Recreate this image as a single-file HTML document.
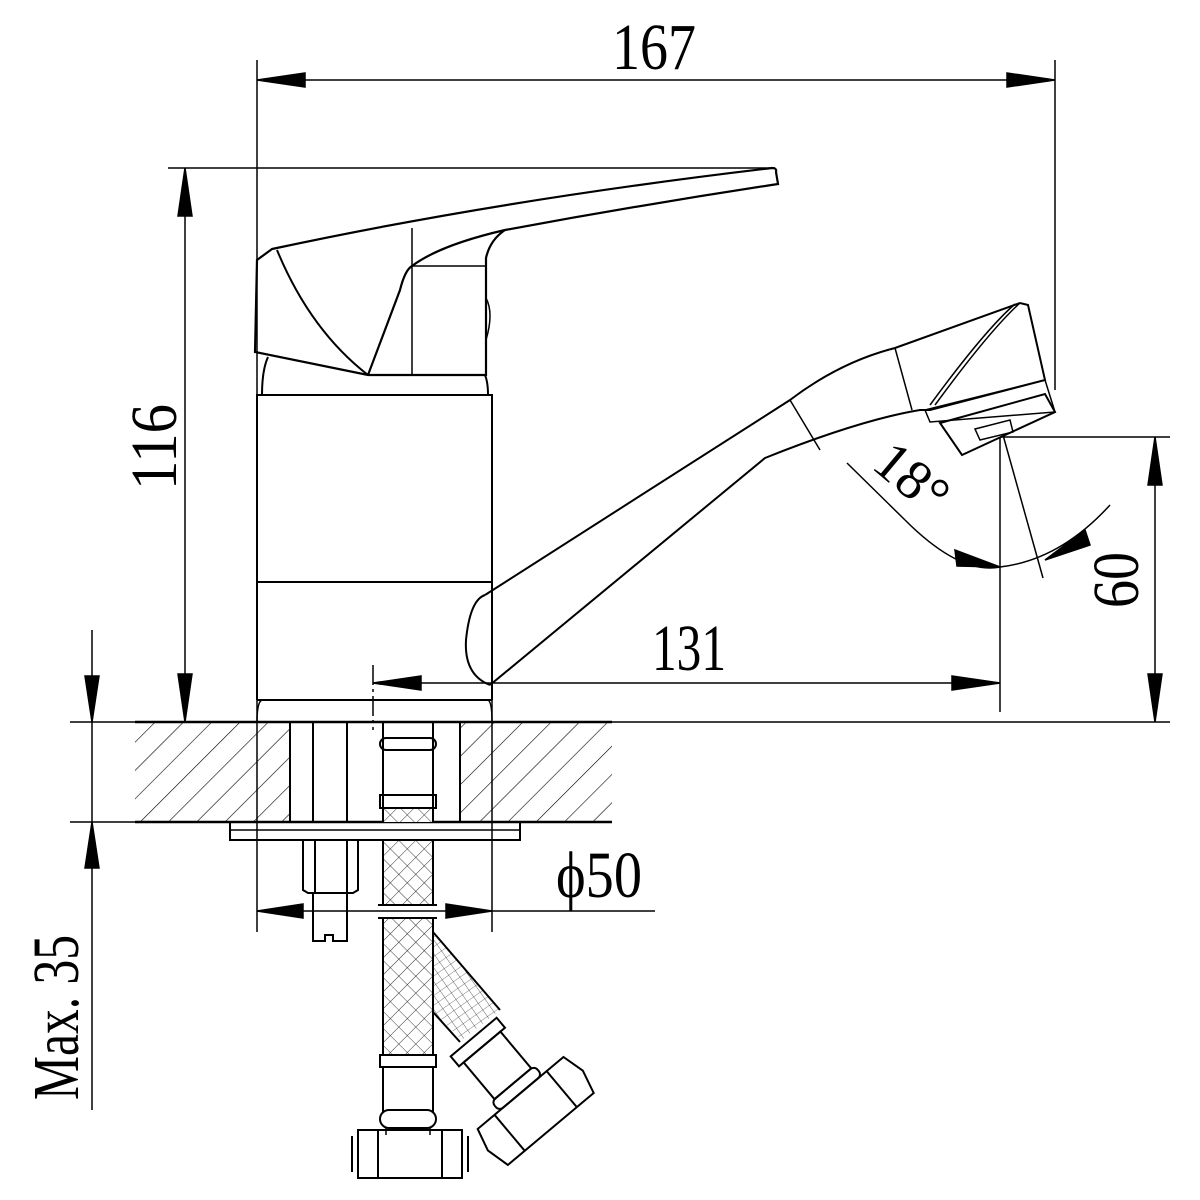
<!DOCTYPE html>
<html><head><meta charset="utf-8"><style>html,body{margin:0;padding:0;background:#fff}svg{display:block}</style></head><body>
<svg width="1200" height="1200" viewBox="0 0 1200 1200" xmlns="http://www.w3.org/2000/svg" font-family="Liberation Serif, serif">
<defs>
<pattern id="h" patternUnits="userSpaceOnUse" width="20" height="20" patternTransform="rotate(45)">
<line x1="0" y1="0" x2="0" y2="20" stroke="#000" stroke-width="1.2"/></pattern>
<pattern id="x" patternUnits="userSpaceOnUse" width="12" height="12" patternTransform="rotate(45)">
<path d="M0 0H12M0 0V12" stroke="#000" stroke-width="0.8" fill="none"/></pattern>
<pattern id="g" patternUnits="userSpaceOnUse" width="8" height="8" patternTransform="rotate(-35)">
<path d="M0 0H8M0 0V8" stroke="#000" stroke-width="0.6" fill="none"/></pattern>
</defs>
<g stroke="#000" fill="none" stroke-width="1.5">
<line x1="257" y1="60" x2="257" y2="722"/>
<line x1="1055" y1="60" x2="1055" y2="390"/>
<line x1="257" y1="80" x2="1055" y2="80"/>
<polygon points="257,80 305,73 305,87" fill="#000"/>
<polygon points="1055,80 1007,73 1007,87" fill="#000"/>
<line x1="168" y1="168" x2="775" y2="168"/>
<line x1="185" y1="168" x2="185" y2="722"/>
<polygon points="185,168 178,216 192,216" fill="#000"/>
<polygon points="185,722 178,674 192,674" fill="#000"/>
<line x1="1000" y1="437" x2="1170" y2="437"/>
<line x1="1155" y1="437" x2="1155" y2="722"/>
<polygon points="1155,437 1148,485 1162,485" fill="#000"/>
<polygon points="1155,722 1148,674 1162,674" fill="#000"/>
<line x1="70" y1="722" x2="1170" y2="722"/>
<line x1="70" y1="822" x2="612" y2="822"/>
<rect x="135" y="722" width="155" height="100" fill="url(#h)" stroke="none"/>
<rect x="460" y="722" width="152" height="100" fill="url(#h)" stroke="none"/>
<line x1="135" y1="722" x2="612" y2="722" stroke-width="2.5"/>
<line x1="135" y1="822" x2="612" y2="822" stroke-width="2.5"/>
<line x1="290" y1="722" x2="290" y2="822" stroke-width="2"/>
<line x1="313" y1="722" x2="313" y2="822" stroke-width="2"/>
<line x1="347" y1="722" x2="347" y2="822" stroke-width="2"/>
<line x1="460" y1="722" x2="460" y2="822" stroke-width="2"/>
<line x1="492" y1="700" x2="492" y2="932"/>
<line x1="257" y1="722" x2="257" y2="932"/>
<line x1="92" y1="630" x2="92" y2="1110"/>
<polygon points="92,722 85,676 99,676" fill="#000"/>
<polygon points="92,822 85,868 99,868" fill="#000"/>
<path d="M257 700 V395 H492 V700 M257 582 H492 M257 700 H492" stroke-width="2"/>
<path d="M257 722 Q257 702 262 700 M492 722 Q492 702 488 700"/>
<path d="M262 395 Q262 370 268 357 M488 395 Q488 382 485 375" stroke-width="2"/>
<path d="M255 352 L257 260 L272 249 Q500 200 772 168 Q777 168 776 172 L778 184 Q640 205 505 230 Q490 240 486 258 V375 H368 Z" stroke-width="2.2"/>
<path d="M277 250 Q310 330 368 375" stroke-width="2"/>
<path d="M368 375 L400 290 Q405 270 412 266 Q440 245 505 230" stroke-width="2.2"/>
<path d="M412 228 V375 M412 266 H486"/>
<path d="M486 298 Q494 313 486 340"/>
<path d="M485 595 L790 400 Q840 362 895 348 L1020 303 L1028 305 L1045 380 L930 410 L920 410 Q860 420 765 458 L490 685" stroke-width="2"/>
<path d="M485 595 Q470 600 466 640 Q464 675 490 685" stroke-width="2"/>
<path d="M790 400 L820 450 M895 348 L912 410"/>
<path d="M1020 303 Q990 330 935 405 M1015 304 Q985 330 930 405"/>
<path d="M925 410 L1045 380 L1055 412 L930 422 Z"/>
<path d="M940 423 L1045 394 L1055 412 L962 455 Z" stroke-width="2"/>
<path d="M975 429 L1010 420 L1013 432 L980 440 Z"/>
<line x1="373" y1="665" x2="373" y2="730" stroke-dasharray="20 4 3 4"/>
<line x1="373" y1="683" x2="1000" y2="683"/>
<line x1="1000" y1="437" x2="1000" y2="712"/>
<polygon points="373,683 421,676 421,690" fill="#000"/>
<polygon points="1000,683 952,676 952,690" fill="#000"/>
<line x1="1003" y1="435" x2="1043" y2="578"/>
<line x1="847" y1="463" x2="905" y2="520"/>
<path d="M905 520 Q960 575 1000 567 Q1060 560 1110 505"/>
<polygon points="1000,567 955,550 957,566" fill="#000"/>
<polygon points="1045,560 1085,530 1090,545" fill="#000"/>
<rect x="230" y="822" width="290" height="18" stroke-width="2"/>
<line x1="230" y1="830" x2="520" y2="830"/>
<path d="M303 840 V890 L308 893 H353 L358 890 V840 M315 840 V893 M347 840 V893" stroke-width="2"/>
<path d="M313 893 V941 H325 V935 H333 V941 H347 V893" stroke-width="2"/>
<line x1="257" y1="911" x2="655" y2="911"/>
<polygon points="257,911 303,904 303,918" fill="#000"/>
<polygon points="492,911 446,904 446,918" fill="#000"/>
<rect x="383" y="730" width="50" height="92" fill="#fff" stroke="none"/>
<path d="M383 722 V822 M433 722 V822" stroke-width="2"/>
<rect x="380" y="738" width="56" height="12" rx="6" stroke-width="2"/>
<rect x="380" y="795" width="56" height="13" stroke-width="2"/>
<rect x="383" y="808" width="50" height="14" fill="url(#x)" stroke="none"/>
<rect x="383" y="840" width="50" height="65" fill="url(#x)" stroke="none"/>
<rect x="383" y="918" width="50" height="137" fill="url(#x)" stroke="none"/>
<path d="M383 840 V905 M433 840 V905 M383 918 V1055 M433 918 V1055" stroke-width="2"/>
<path d="M378 905 H437 M378 918 H437" stroke-width="2"/>
<polygon points="433,932 500,1010 462,1040 433,1012" fill="url(#g)" stroke="none"/>
<line x1="433" y1="932" x2="500" y2="1010" stroke-width="2"/>
<line x1="433" y1="1012" x2="460" y2="1042" stroke-width="2"/>
<rect x="380" y="1055" width="56" height="12" stroke-width="2"/>
<path d="M383 1067 V1112 M433 1067 V1112" stroke-width="2"/>
<rect x="380" y="1110" width="56" height="18" rx="9" stroke-width="2"/>
<path d="M386 1128 V1135 M430 1128 V1135"/>
<path d="M358 1130 H462 V1178 H358 Z M352 1136 V1172 M468 1136 V1172 M378 1130 V1178 M442 1130 V1178" stroke-width="2"/>
<g transform="translate(12 12) rotate(-40 470 1035)" stroke-width="2">
<rect x="440" y="1022" width="60" height="13"/>
<rect x="446" y="1035" width="48" height="48"/>
<rect x="442" y="1083" width="56" height="12" rx="5"/>
<path d="M414 1095 H526 L532 1118 L526 1142 H414 L408 1118 Z M436 1095 V1142 M504 1095 V1142"/>
</g>
</g>
<g font-size="66" fill="#000">
<text x="612" y="69" textLength="84" lengthAdjust="spacingAndGlyphs">167</text>
<text transform="translate(176,490) rotate(-90)" textLength="86" lengthAdjust="spacingAndGlyphs">116</text>
<text transform="translate(1138,608) rotate(-90)" textLength="56" lengthAdjust="spacingAndGlyphs">60</text>
<text x="652" y="670" textLength="74" lengthAdjust="spacingAndGlyphs">131</text>
<text x="556" y="897" textLength="86" lengthAdjust="spacingAndGlyphs">ϕ50</text>
<text transform="translate(78,1100) rotate(-90)" textLength="165" lengthAdjust="spacingAndGlyphs">Max. 35</text>
<text transform="translate(870,467) rotate(40)" font-size="56">18°</text>
</g>
</svg>
</body></html>
